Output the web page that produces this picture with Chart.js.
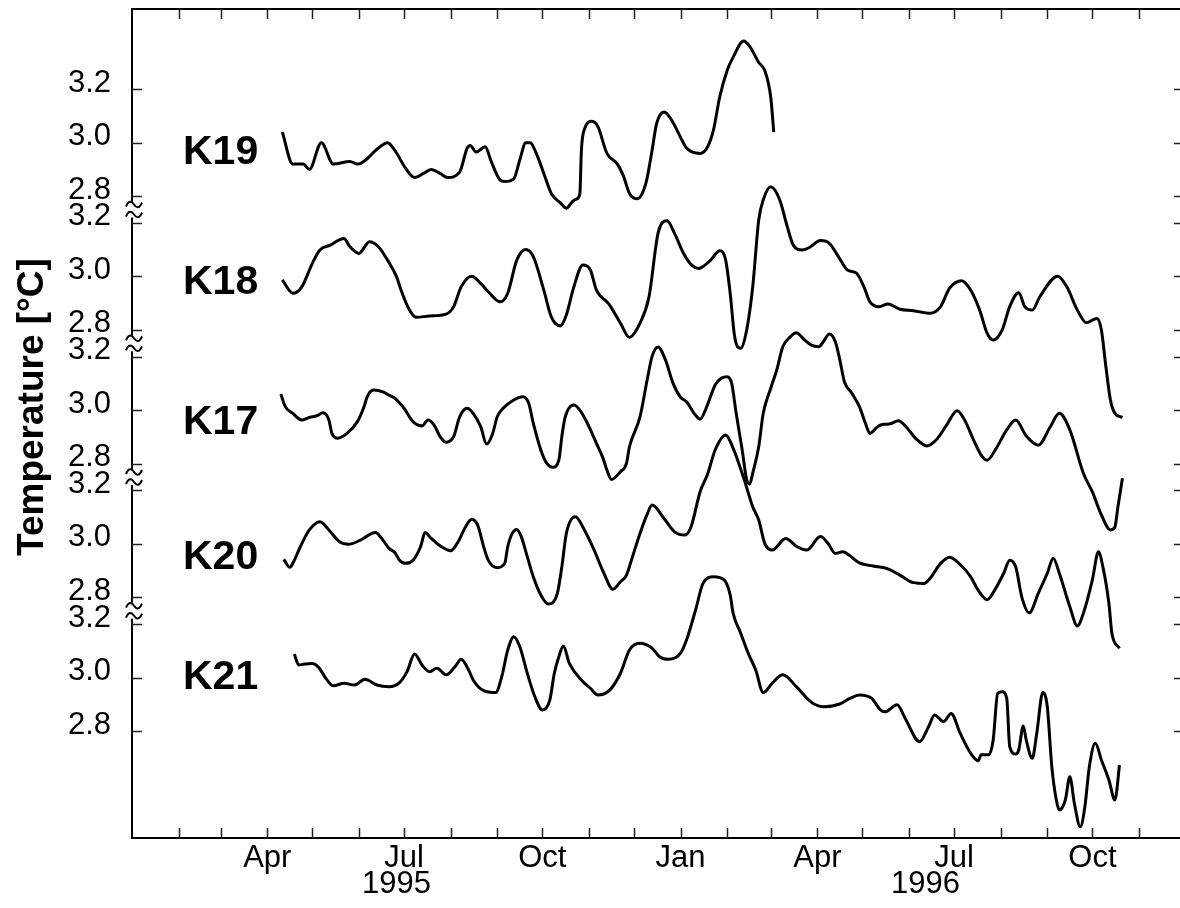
<!DOCTYPE html>
<html>
<head>
<meta charset="utf-8">
<script src="https://cdn.jsdelivr.net/npm/chart.js@4.4.1/dist/chart.umd.min.js"></script>
<style>
  html, body { margin: 0; padding: 0; background: #fff; }
  #wrap { width: 1180px; height: 908px; position: relative; }
</style>
</head>
<body>
<div id="wrap"><canvas id="chart-temperature"></canvas></div>
<script>
// days counted from 1 Jan 1995
const seriesNames = ['K19', 'K18', 'K17', 'K20', 'K21'];
const stackShift = [0, -0.5, -1.0, -1.5, -2.0];

const k19Day = [100,107,114,118,126,134,145,150,165,170,175,182,188,194,199,205,210,218,223,225,229,235,239,245,248,254,258,262,265,269,274,279,285,289,293,296,298,299,301,306,310,316,323,327,331,336,342,346,349,354,359,365,369,378,383,387,391,396,400,407,411,417,421,425,427];
const k19Temp = [3.04,2.92,2.92,2.90,3.00,2.92,2.93,2.92,2.985,3.00,2.97,2.905,2.87,2.885,2.90,2.885,2.87,2.89,2.98,2.99,2.965,2.985,2.93,2.86,2.855,2.865,2.935,3.00,3.00,2.96,2.885,2.81,2.775,2.755,2.78,2.79,2.81,2.97,3.05,3.08,3.06,2.96,2.92,2.875,2.81,2.79,2.85,2.97,3.07,3.115,3.085,3.02,2.98,2.96,2.985,3.05,3.17,3.27,3.32,3.38,3.36,3.30,3.27,3.17,3.04];

const k18Day = [100,107,113,120,125,132,141,145,151,158,164,170,176,179,184,189,198,209,214,219,226,232,238,245,250,256,262,267,274,279,285,289,294,300,305,309,317,325,331,338,344,350,356,361,367,373,377,385,391,395,398,401,405,409,413,417,420,425,431,436,440,446,451,458,464,470,476,482,487,491,497,503,511,520,531,538,544,552,558,564,569,573,579,584,590,594,599,604,616,622,629,635,642,645,648,651,654,659];
const k18Temp = [2.987,2.937,2.961,3.049,3.099,3.117,3.142,3.111,3.086,3.130,3.111,3.061,2.999,2.949,2.881,2.847,2.852,2.859,2.887,2.961,3.001,2.974,2.937,2.905,2.937,3.061,3.101,3.074,2.949,2.849,2.815,2.856,2.961,3.043,3.024,2.949,2.899,2.825,2.772,2.825,2.924,3.161,3.208,3.161,3.086,3.039,3.030,3.061,3.096,3.061,2.937,2.774,2.731,2.800,2.961,3.211,3.286,3.335,3.286,3.186,3.117,3.099,3.109,3.134,3.124,3.074,3.024,3.012,2.961,2.905,2.887,2.897,2.877,2.872,2.862,2.887,2.956,2.984,2.949,2.874,2.787,2.762,2.800,2.887,2.939,2.887,2.874,2.924,3.001,2.961,2.874,2.827,2.843,2.800,2.662,2.538,2.488,2.473];

const k17Day = [99,102,107,113,118,123,127,131,133,137,143,150,154,157,161,167,171,175,181,187,193,197,201,205,209,214,218,223,227,232,236,240,243,247,254,260,264,267,272,276,280,284,286,288,294,298,303,309,313,316,319,325,329,331,338,343,346,350,355,360,365,369,374,378,382,388,392,396,399,402,406,409,411,413,417,420,425,429,433,438,442,447,452,457,460,464,468,471,474,479,484,488,491,496,500,504,510,515,522,529,535,542,549,554,560,565,569,575,582,588,595,603,611,617,624,633,639,645,651,654,656,659];
const k17Temp = [3.060,3.013,2.988,2.963,2.973,2.979,2.990,2.963,2.913,2.895,2.913,2.957,3.007,3.056,3.075,3.068,3.056,3.044,3.007,2.957,2.941,2.963,2.944,2.901,2.880,2.901,2.975,3.007,2.988,2.938,2.873,2.913,2.975,3.007,3.038,3.050,3.025,2.951,2.851,2.801,2.786,2.813,2.901,2.969,3.019,3.000,2.951,2.876,2.826,2.776,2.741,2.770,2.801,2.863,2.975,3.120,3.200,3.236,3.187,3.100,3.048,3.031,2.988,2.966,3.007,3.094,3.119,3.125,3.100,2.988,2.851,2.739,2.724,2.764,2.863,2.988,3.082,3.150,3.237,3.274,3.289,3.265,3.243,3.237,3.256,3.285,3.256,3.187,3.106,3.063,3.013,2.951,2.913,2.938,2.947,2.948,2.960,2.938,2.891,2.866,2.888,2.944,2.998,2.963,2.888,2.832,2.813,2.857,2.926,2.963,2.903,2.869,2.938,2.988,2.926,2.764,2.694,2.608,2.552,2.563,2.639,2.745];

const k20Day = [101,105,107,112,118,125,132,138,144,152,162,166,171,175,178,182,187,192,195,199,206,212,217,222,226,230,234,237,243,248,250,253,256,259,263,267,272,277,283,286,289,295,301,307,314,320,325,329,333,338,343,346,354,361,368,372,378,383,388,395,400,407,413,417,421,426,435,442,449,458,463,468,473,477,484,493,502,511,520,527,531,538,544,552,558,563,569,574,580,584,588,592,597,603,609,613,617,624,629,633,639,643,646,650,652,657];
const k20Temp = [2.942,2.912,2.927,2.989,3.052,3.083,3.045,3.008,2.998,3.014,3.042,3.021,2.983,2.967,2.939,2.927,2.939,2.989,3.042,3.021,2.989,2.974,3.008,3.064,3.092,3.070,2.989,2.939,2.911,2.927,2.989,3.039,3.054,3.027,2.952,2.877,2.809,2.775,2.815,2.914,3.039,3.101,3.052,2.983,2.890,2.830,2.858,2.883,2.952,3.039,3.114,3.145,3.095,3.045,3.033,3.064,3.195,3.261,3.351,3.407,3.357,3.246,3.139,3.089,3.002,2.977,3.020,2.991,2.977,3.027,3.002,2.964,2.970,2.958,2.929,2.917,2.908,2.883,2.855,2.852,2.871,2.927,2.950,2.917,2.877,2.827,2.791,2.827,2.890,2.939,2.914,2.802,2.742,2.815,2.890,2.946,2.890,2.765,2.693,2.740,2.865,2.970,2.914,2.777,2.665,2.609];

const k21Day = [108,111,115,120,124,129,134,141,148,155,163,171,178,183,188,193,198,203,209,215,219,224,227,234,242,246,250,254,258,263,268,273,278,281,284,287,291,299,305,310,318,325,331,338,346,351,357,365,369,375,380,387,394,398,400,405,410,415,420,426,433,442,449,453,460,471,478,484,492,498,501,509,515,524,530,534,540,545,551,558,563,565,570,573,576,579,582,584,588,590,593,595,599,602,606,609,612,615,617,621,624,627,631,634,637,641,645,650,654,655,657];
const k21Temp = [3.088,3.047,3.051,3.053,3.039,2.997,2.969,2.979,2.972,2.994,2.972,2.966,2.981,3.022,3.088,3.047,3.022,3.035,3.010,3.041,3.068,3.028,2.991,2.951,2.944,3.003,3.103,3.153,3.116,3.016,2.929,2.879,2.916,3.016,3.078,3.118,3.053,2.991,2.960,2.935,2.954,3.016,3.103,3.128,3.110,3.078,3.068,3.091,3.141,3.253,3.353,3.377,3.365,3.309,3.240,3.166,3.091,3.028,2.944,2.979,3.010,2.966,2.923,2.904,2.891,2.901,2.923,2.935,2.923,2.879,2.872,2.898,2.841,2.760,2.816,2.860,2.835,2.866,2.792,2.717,2.689,2.711,2.711,2.767,2.941,2.947,2.923,2.742,2.714,2.729,2.819,2.766,2.698,2.792,2.944,2.891,2.667,2.542,2.505,2.542,2.629,2.530,2.442,2.517,2.667,2.754,2.692,2.617,2.542,2.567,2.673];

const tickTemps = [2.8, 3.0, 3.2];
const tickTempText = ['2.8', '3.0', '3.2'];
const monthText = ['Jan','Feb','Mar','Apr','May','Jun','Jul','Aug','Sep','Oct','Nov','Dec'];
const labeledMonths = [0, 3, 6, 9];
const years = ['1995', '1996'];

const allDays = [k19Day, k18Day, k17Day, k20Day, k21Day];
const allTemps = [k19Temp, k18Temp, k17Temp, k20Temp, k21Temp];

function dayOf(y, m) {
    return (Date.UTC(y, m, 1) - Date.UTC(1995, 0, 1)) / 86400000;
}

// month ticks Feb 1995 .. Nov 1996
const monthTicks = [];
const monthLabels = [];
for (let i = 1; i <= 22; i++) {
    const y = 1995 + Math.floor(i / 12);
    const m = i % 12;
    monthTicks.push(dayOf(y, m));
    monthLabels.push(labeledMonths.includes(m) ? monthText[m] : '');
}

// y ticks, bottom panel first
const yTicks = [];
stackShift.slice().reverse().forEach(s => {
    tickTemps.forEach(t => yTicks.push(Math.round((t + s) * 100) / 100));
});

const FONT = '"Liberation Sans", Arial, Helvetica, sans-serif';

const datasets = seriesNames.map((name, k) => ({
    label: name,
    data: allDays[k].map((d, i) => ({ x: d, y: allTemps[k][i] + stackShift[k] })),
    borderColor: '#000',
    borderWidth: 3,
    pointRadius: 0,
    fill: false,
    cubicInterpolationMode: 'monotone'
}));

const framePlugin = {
    id: 'frame',
    beforeDatasetsDraw(chart) {
        const { ctx, chartArea: a, scales: { x, y } } = chart;
        ctx.save();
        // the right edge of the frame lies just past the picture
        ctx.strokeStyle = '#000';
        ctx.lineWidth = 2;
        ctx.beginPath();
        ctx.moveTo(a.right + 5, a.top);
        ctx.lineTo(a.left, a.top);
        ctx.lineTo(a.left, a.bottom);
        ctx.lineTo(a.right + 5, a.bottom);
        ctx.stroke();
        ctx.lineWidth = 1.5;
        ctx.strokeStyle = '#222';
        ctx.beginPath();
        x.ticks.forEach(t => {
            const px = Math.round(x.getPixelForValue(t.value)) + 0.5;
            ctx.moveTo(px, a.bottom); ctx.lineTo(px, a.bottom - 10);
            ctx.moveTo(px, a.top); ctx.lineTo(px, a.top + 10);
        });
        y.ticks.forEach(t => {
            const py = Math.round(y.getPixelForValue(t.value)) + 0.5;
            ctx.moveTo(a.left, py); ctx.lineTo(a.left + 10, py);
            ctx.moveTo(a.right + 4, py); ctx.lineTo(a.right - 6, py);
        });
        ctx.stroke();

        // axis breaks between panels
        ctx.strokeStyle = '#000';
        ctx.lineWidth = 2;
        for (let k = 0; k < stackShift.length - 1; k++) {
            const lo = y.getPixelForValue(2.8 + stackShift[k]);
            const hi = y.getPixelForValue(3.2 + stackShift[k + 1]);
            const cy = (lo + hi) / 2;
            const cx = a.left + 2;
            ctx.fillStyle = '#fff';
            ctx.fillRect(a.left - 3, cy - 8, 6, 16);
            [-5, 5].forEach(dy => {
                ctx.beginPath();
                ctx.moveTo(cx - 8, cy + dy + 2);
                ctx.bezierCurveTo(cx - 5, cy + dy - 5, cx - 2, cy + dy - 3, cx, cy + dy);
                ctx.bezierCurveTo(cx + 2, cy + dy + 3, cx + 5, cy + dy + 5, cx + 8, cy + dy - 2);
                ctx.stroke();
            });
        }
        ctx.restore();
    },
    afterDraw(chart) {
        const { ctx, scales: { x, y } } = chart;
        ctx.save();
        ctx.fillStyle = '#000';

        // series names
        const nudge = [10, 6, 13, 14, 0];
        ctx.font = 'bold 41px ' + FONT;
        ctx.textAlign = 'left';
        ctx.textBaseline = 'middle';
        seriesNames.forEach((n, k) => {
            ctx.fillText(n, 183, y.getPixelForValue(3.0 + stackShift[k]) + nudge[k]);
        });

        // years under the month labels
        const yearAt = [176, 528];
        ctx.font = '31px ' + FONT;
        ctx.textAlign = 'center';
        years.forEach((t, i) => ctx.fillText(t, x.getPixelForValue(yearAt[i]), 884));

        // y title
        ctx.translate(33, 407);
        ctx.rotate(-Math.PI / 2);
        ctx.font = 'bold 37px ' + FONT;
        ctx.fillText('Temperature [°C]', 0, 0);
        ctx.restore();
    }
};

const ctx = document.getElementById('chart-temperature').getContext('2d');
const myChart = new Chart(ctx, {
    type: 'line',
    data: { datasets: datasets },
    options: {
        responsive: true,
        maintainAspectRatio: false,
        animation: false,
        layout: { padding: { left: 0, top: 9, right: 0, bottom: 0 } },
        plugins: {
            legend: { display: false },
            tooltip: { enabled: false }
        },
        scales: {
            x: {
                type: 'linear',
                min: 0,
                max: 697.3,
                grid: { display: false, drawTicks: false },
                border: { display: false },
                afterBuildTicks: s => { s.ticks = monthTicks.map(v => ({ value: v })); },
                afterFit: s => { s.height = 70; s.paddingLeft = 0; s.paddingRight = 0; },
                ticks: {
                    autoSkip: false,
                    maxRotation: 0,
                    padding: 2,
                    color: '#000',
                    font: { family: FONT, size: 31 },
                    callback: (v, i) => monthLabels[i]
                }
            },
            y: {
                min: 0.4,
                max: 3.5,
                grid: { display: false, drawTicks: false },
                border: { display: false },
                afterBuildTicks: s => { s.ticks = yTicks.map(v => ({ value: v })); },
                afterFit: s => { s.width = 132; s.paddingTop = 0; s.paddingBottom = 0; },
                ticks: {
                    autoSkip: false,
                    padding: 21,
                    labelOffset: -6,
                    color: '#000',
                    font: { family: FONT, size: 31 },
                    callback: (v, i) => tickTempText[i % 3]
                }
            }
        }
    },
    plugins: [framePlugin]
});
</script>
</body>
</html>
